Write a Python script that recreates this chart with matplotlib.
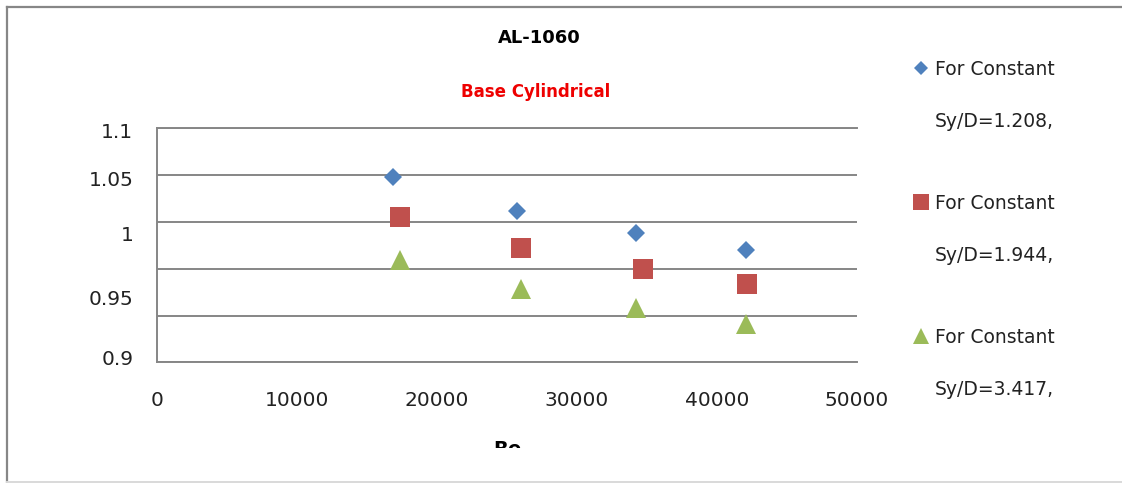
import matplotlib
matplotlib.use("Agg")
import matplotlib.pyplot as plt
from matplotlib.lines import Line2D
from matplotlib.transforms import Bbox, TransformedBbox

# --- data ---
re_s1 = [16880, 25690, 34210, 42050]
val_s1 = [1.0586, 1.0293, 1.0107, 0.9960]

re_s2 = [17360, 26000, 34740, 42120]
val_s2 = [1.0244, 0.9974, 0.9795, 0.9669]

re_s3 = [17360, 26000, 34210, 42050]
val_s3 = [0.9877, 0.9628, 0.9465, 0.9329]

series_names = ["For Constant", "For Constant", "For Constant"]
series_notes = ["Sy/D=1.208,", "Sy/D=1.944,", "Sy/D=3.417,"]

x_ticks = [0, 10000, 20000, 30000, 40000, 50000]
grid_y = [0.9, 0.94, 0.98, 1.02, 1.06, 1.1]
# the labels in the picture do not sit on the grid lines
ylabel_pos = [1.0979, 1.0575, 1.0105, 0.9558, 0.9037]
ylabel_txt = ["1.1", "1.05", "1", "0.95", "0.9"]

plt.rcParams['font.family'] = ['DejaVu Sans']

fig = plt.figure(figsize=(11.22, 4.83), dpi=100)
ax = fig.add_axes([157 / 1122, 1 - 362.3 / 483, 700 / 1122, 234 / 483])

blue = '#4F81BD'
red = '#C0504D'
green = '#9BBB59'
grey = '#868686'

ax.plot(re_s1, val_s1, 'D', color=blue, markersize=9.2, markeredgewidth=0)
ax.plot(re_s2, val_s2, 's', color=red, markersize=14, markeredgewidth=0)
ax.plot(re_s3, val_s3, '^', color=green, markersize=13.7, markeredgewidth=0)

ax.set_xlim(0, 50000)
ax.set_ylim(0.9, 1.1)
ax.set_xticks(x_ticks)
ax.set_xticklabels([str(v) for v in x_ticks])
ax.set_yticks(ylabel_pos)
ax.set_yticklabels(ylabel_txt)
ax.set_yticks(grid_y, minor=True)
ax.grid(False)
ax.yaxis.grid(True, which='minor', color=grey, linewidth=1.4)
ax.tick_params(axis='both', which='both', length=0, labelsize=14.5, colors='#222222')
ax.tick_params(axis='x', pad=21)
ax.tick_params(axis='y', pad=17)

for side in ['top', 'bottom', 'left']:
    ax.spines[side].set_color(grey)
    ax.spines[side].set_linewidth(1.4)
ax.spines['right'].set_visible(False)

# x label is cut off at the bottom of the chart area
ax.set_xlabel("Re", fontsize=14, fontweight='bold', labelpad=21)
ax.xaxis.label.set_clip_box(TransformedBbox(Bbox([[0, 35 / 483], [1, 1]]), fig.transFigure))

fig.text(539 / 1122, 1 - 38.3 / 483, "AL-1060", ha='center', va='center',
         fontsize=13, fontweight='bold', color='black')
fig.text(536 / 1122, 1 - 91.7 / 483, "Base Cylindrical", ha='center', va='center',
         fontsize=12, fontweight='bold', color='#EE0000')

# legend: each entry over two lines, the second line without a marker
handles = []
labels = []
for mk, col, name, note in zip(['D', 's', '^'], [blue, red, green], series_names, series_notes):
    handles.append(Line2D([], [], linestyle='none', marker=mk, color=col,
                          markersize={'D': 7.5, 's': 11, '^': 12}[mk], markeredgewidth=0))
    labels.append(name)
    handles.append(Line2D([], [], linestyle='none'))
    labels.append(note + "\n")

leg = fig.legend(handles, labels, loc='upper left', bbox_to_anchor=(911.6 / 1122, 1 - 60 / 483),
                 frameon=False, fontsize=13.5, handlelength=1.0, handletextpad=0.245,
                 labelspacing=1.75, borderpad=0, borderaxespad=0)
for i, t in enumerate(leg.get_texts()):
    t.set_color('#222222')
    if i % 2 == 1:
        t.set_linespacing(1.75)

# chart area border: dark top/left, light bottom
fig.add_artist(Line2D([7 / 1122, 1], [1 - 7 / 483, 1 - 7 / 483], transform=fig.transFigure,
                      color='#878787', linewidth=1.6))
fig.add_artist(Line2D([7 / 1122, 7 / 1122], [1 - 7 / 483, 1.5 / 483], transform=fig.transFigure,
                      color='#878787', linewidth=1.6))
fig.add_artist(Line2D([7 / 1122, 1], [1.5 / 483, 1.5 / 483], transform=fig.transFigure,
                      color='#D9D9D9', linewidth=1.4))

fig.savefig("out.png", dpi=100)
